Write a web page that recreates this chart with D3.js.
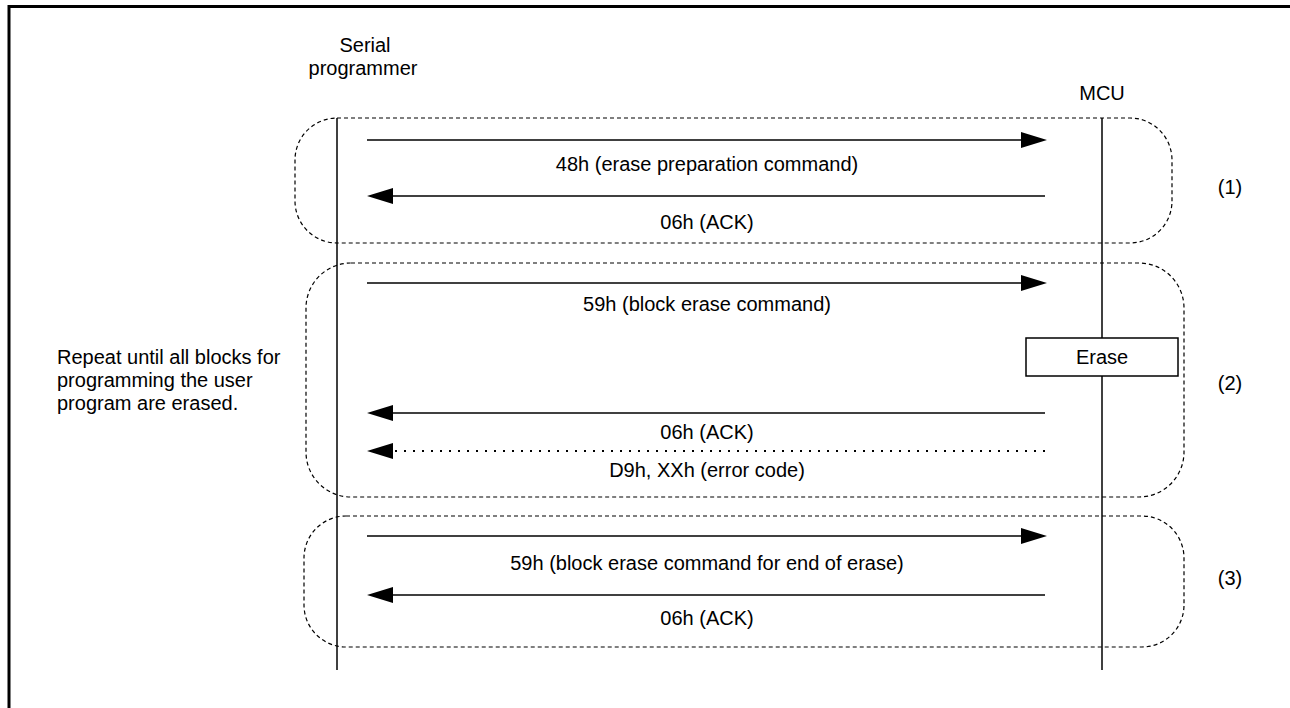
<!DOCTYPE html>
<html>
<head>
<meta charset="utf-8">
<script src="https://cdn.jsdelivr.net/npm/d3@7"></script>
<style>
  html, body { margin: 0; padding: 0; background: #fff; }
  svg { display: block; }
  text { font-family: "Liberation Sans", Arial, sans-serif; font-size: 20px; fill: #000; }
</style>
</head>
<body>
<svg id="canvas" width="1290" height="708"></svg>
<script>
// participants of the sequence
const actors = ['programmer', 'mcu']
const actorLabels = { programmer: ['Serial', 'programmer'], mcu: ['MCU'] }

// messages in order
const msgFrom = ['mcu_in', 'mcu', 'mcu_in', 'mcu', 'mcu', 'mcu_in', 'mcu']
const msgLabels = [
    '48h (erase preparation command)',
    '06h (ACK)',
    '59h (block erase command)',
    '06h (ACK)',
    'D9h, XXh (error code)',
    '59h (block erase command for end of erase)',
    '06h (ACK)'
]
const msgDotted = [false, false, false, false, true, false, false]

// groups (loops) around messages
const groupLabels = ['(1)', '(2)', '(3)']
const repeatNote = ['Repeat until all blocks for', 'programming the user', 'program are erased.']
const processLabel = 'Erase'

// ---- layout ----
const W = 1290, H = 708
const svg = d3.select('#canvas')

const x = d3.scalePoint().domain(actors).range([337, 1102])
const y = d3.scaleLinear().domain([0, H]).range([0, H])

const msgY = [140, 196, 283, 413, 451, 536, 595]
const labelY = [171, 229, 311, 439, 477, 570, 625]
const groupBox = [
    { x0: 295, x1: 1172, y0: 118, y1: 243, r: 42, ly: 194 },
    { x0: 306, x1: 1184, y0: 263, y1: 497, r: 45, ly: 390 },
    { x0: 304, x1: 1184, y0: 516, y1: 647, r: 42, ly: 585 }
]
const arrowL = 367, arrowR = 1047, headLen = 26, headW = 8

// frame
svg.append('line').attr('x1', 8).attr('x2', W).attr('y1', 6.5).attr('y2', 6.5)
    .attr('stroke', '#000').attr('stroke-width', 3)
svg.append('line').attr('x1', 9).attr('x2', 9).attr('y1', 5).attr('y2', H)
    .attr('stroke', '#000').attr('stroke-width', 3)

// lifelines
svg.selectAll('.life')
    .data(actors)
    .enter()
    .append('line')
    .attr('class', 'life')
    .attr('x1', d => x(d)).attr('x2', d => x(d))
    .attr('y1', y(118)).attr('y2', y(670))
    .attr('stroke', '#000').attr('stroke-width', 1.5)

// actor names
svg.append('text').attr('x', x('programmer') + 28).attr('y', 52)
    .attr('text-anchor', 'middle').text(actorLabels.programmer[0])
svg.append('text').attr('x', x('programmer') + 26).attr('y', 75)
    .attr('text-anchor', 'middle').text(actorLabels.programmer[1])
svg.append('text').attr('x', x('mcu')).attr('y', 100)
    .attr('text-anchor', 'middle').text(actorLabels.mcu[0])

// dashed groups
groupBox.forEach((g, i) => {
    svg.append('rect')
        .attr('x', g.x0).attr('y', y(g.y0))
        .attr('width', g.x1 - g.x0).attr('height', y(g.y1) - y(g.y0))
        .attr('rx', g.r).attr('ry', g.r)
        .attr('fill', 'none')
        .attr('stroke', '#000')
        .attr('stroke-width', 1.2)
        .attr('stroke-dasharray', '4,3')
    svg.append('text')
        .attr('x', 1230).attr('y', y(g.ly))
        .attr('text-anchor', 'middle')
        .text(groupLabels[i])
})

// erase process box on MCU lifeline
svg.append('rect')
    .attr('x', 1026).attr('y', y(338))
    .attr('width', 152).attr('height', 38)
    .attr('fill', '#fff').attr('stroke', '#000').attr('stroke-width', 1.5)
svg.append('text').attr('x', 1102).attr('y', y(364))
    .attr('text-anchor', 'middle').text(processLabel)

// messages
const msgs = msgLabels.map((label, i) => ({
    label, dotted: msgDotted[i], right: msgFrom[i] === 'mcu_in', y: y(msgY[i]), ly: y(labelY[i])
}))

const mg = svg.append('g').attr('class', 'msgs')
const m = mg.selectAll('g').data(msgs).enter().append('g')

m.append('line')
    .attr('x1', d => d.right ? arrowL : arrowR - 2)
    .attr('x2', d => d.right ? arrowR - headLen + 2 : arrowL + headLen)
    .attr('y1', d => d.y).attr('y2', d => d.y)
    .attr('stroke', '#000')
    .attr('stroke-width', d => d.dotted ? 2 : 1.5)
    .attr('stroke-dasharray', d => d.dotted ? '2,7' : null)

m.append('path')
    .attr('d', d => {
        const tip = d.right ? arrowR : arrowL
        const base = d.right ? arrowR - headLen : arrowL + headLen
        return `M${tip},${d.y}L${base},${d.y - headW}L${base},${d.y + headW}Z`
    })
    .attr('fill', '#000')

m.append('text')
    .attr('x', (arrowL + arrowR) / 2)
    .attr('y', d => d.ly)
    .attr('text-anchor', 'middle')
    .text(d => d.label)

// repeat note
svg.append('g').selectAll('text')
    .data(repeatNote)
    .enter()
    .append('text')
    .attr('x', 57)
    .attr('y', (d, i) => y(364 + i * 23))
    .text(d => d)
</script>
</body>
</html>
